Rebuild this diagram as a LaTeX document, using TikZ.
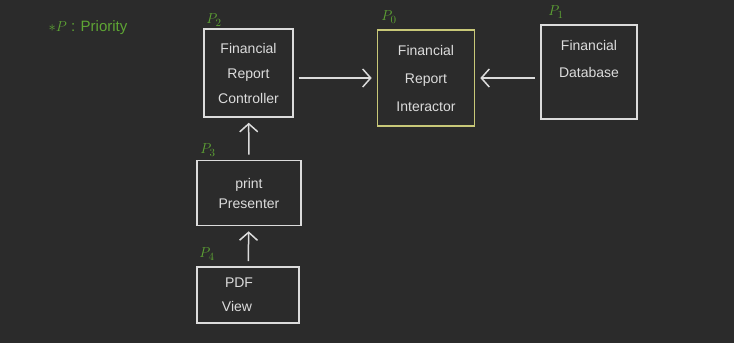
\documentclass[tikz,border=0pt]{standalone}
\usepackage{fontspec}
\setmainfont{Liberation Sans}
\usepackage{tikz}
\usetikzlibrary{arrows.meta}
\definecolor{board}{HTML}{2B2B2B}
\definecolor{chalk}{HTML}{DCDCDC}
\definecolor{prio}{HTML}{5EA534}
\definecolor{focus}{HTML}{C8C878}

\begin{document}
\begin{tikzpicture}[x=1pt,y=-1pt,font=\fontsize{14}{25}\selectfont,text=chalk,box/.style={draw=chalk,line width=1.6pt,align=center,inner sep=0pt},tag/.style={text=prio,font=\fontsize{15}{17}\selectfont},link/.style={draw=chalk,line width=1.5pt,-{Straight Barb[length=8pt,width=18pt,line width=1.5pt]},shorten <=5pt,shorten >=5pt}]
\fill[board] (0,0) rectangle (734,343); \useasboundingbox (0,0) rectangle (734,343);
\node[tag] (key) at (88,28) {$\ast P$ : Priority};
\node[box,minimum width=89pt,minimum height=88pt] (ctrl) at (248.5,73) {Financial\\Report\\Controller};
\node[box,draw=focus,minimum width=97pt,minimum height=96pt,font=\fontsize{14}{28}\selectfont] (inter) at (426,78) {Financial\\Report\\Interactor};
\node[box,minimum width=96pt,minimum height=94pt,font=\fontsize{14}{27}\selectfont] (db) at (589,72) {Financial\\Database\\ };
\node[box,minimum width=104pt,minimum height=65pt,font=\fontsize{14}{20}\selectfont] (pres) at (249,193) {print\\Presenter};
\node[box,minimum width=102pt,minimum height=56pt,font=\fontsize{14}{24}\selectfont] (pdf) at (248,295) {\hspace*{-18pt}PDF\\\hspace*{-22pt}View};
\node[tag] (p2) at (214,20) {$P_2$}; \node[tag] (p0) at (389,17) {$P_0$}; \node[tag] (p1) at (556,12) {$P_1$};
\node[tag] (p3) at (208,150) {$P_3$}; \node[tag] (p4) at (207,254) {$P_4$};
\draw[link] (ctrl.east |- inter.west) -- (inter.west); \draw[link] (db.west |- inter.east) -- (inter.east);
\draw[link] (pres) -- (ctrl); \draw[link] (pdf) -- (pres);
\end{tikzpicture}
\end{document}
